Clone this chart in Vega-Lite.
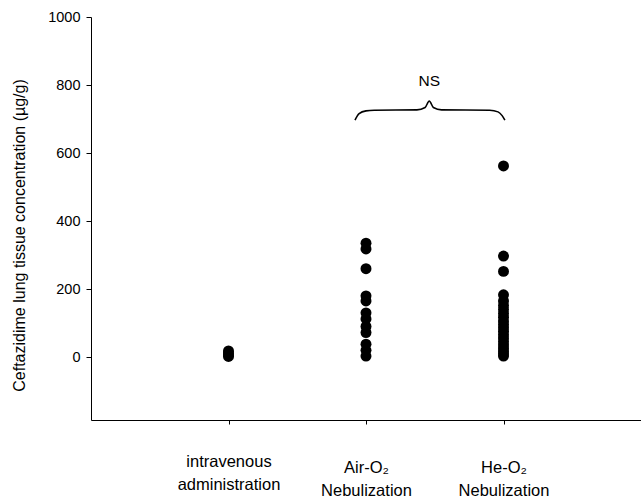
{
  "$schema": "https://vega.github.io/schema/vega-lite/v6.json",
  "width": 550,
  "height": 403,
  "autosize": {"type": "none"},
  "padding": {"left": 91, "top": 17, "right": 0, "bottom": 82},
  "background": "white",
  "config": {
    "view": {"stroke": null},
    "font": "Liberation Sans",
    "axis": {"domainColor": "black", "tickColor": "black", "labelColor": "black", "titleColor": "black", "grid": false, "labelFont": "Liberation Sans", "titleFont": "Liberation Sans", "titleFontWeight": "normal"}
  },
  "datasets": {
    "pts": [
      {"group": 1, "conc": 18}, {"group": 1, "conc": 12}, {"group": 1, "conc": 6}, {"group": 1, "conc": 2},
      {"group": 2, "conc": 335}, {"group": 2, "conc": 318}, {"group": 2, "conc": 260}, {"group": 2, "conc": 180},
      {"group": 2, "conc": 165}, {"group": 2, "conc": 130}, {"group": 2, "conc": 112}, {"group": 2, "conc": 90},
      {"group": 2, "conc": 72}, {"group": 2, "conc": 38}, {"group": 2, "conc": 20}, {"group": 2, "conc": 3},
      {"group": 3, "conc": 562}, {"group": 3, "conc": 297}, {"group": 3, "conc": 252}, {"group": 3, "conc": 183},
      {"group": 3, "conc": 165}, {"group": 3, "conc": 152}, {"group": 3, "conc": 140}, {"group": 3, "conc": 128},
      {"group": 3, "conc": 117}, {"group": 3, "conc": 106}, {"group": 3, "conc": 96}, {"group": 3, "conc": 86},
      {"group": 3, "conc": 76}, {"group": 3, "conc": 66}, {"group": 3, "conc": 56}, {"group": 3, "conc": 46},
      {"group": 3, "conc": 36}, {"group": 3, "conc": 27}, {"group": 3, "conc": 18}, {"group": 3, "conc": 10},
      {"group": 3, "conc": 3}
    ],
    "brace": [
      {"bx": 1.92, "by": 697}, {"bx": 1.95, "by": 716}, {"bx": 2.0, "by": 724}, {"bx": 2.06, "by": 726},
      {"bx": 2.37, "by": 727}, {"bx": 2.43, "by": 734}, {"bx": 2.46, "by": 753}, {"bx": 2.49, "by": 734},
      {"bx": 2.55, "by": 727}, {"bx": 2.9, "by": 726}, {"bx": 2.96, "by": 721}, {"bx": 2.99, "by": 710},
      {"bx": 3.01, "by": 697}
    ],
    "ns": [{"tx": 2.46, "ty": 812, "label": "NS"}]
  },
  "layer": [
    {
      "data": {"name": "pts"},
      "mark": {"type": "circle", "color": "black", "opacity": 1, "size": 120},
      "encoding": {
        "x": {
          "field": "group", "type": "quantitative",
          "scale": {"domain": [0, 4], "nice": false, "zero": false},
          "axis": {
            "title": null, "values": [1, 2, 3], "tickSize": 4,
            "labelFontSize": 16.5, "labelBaseline": "middle", "labelLineHeight": 23,
            "labelPadding": {"condition": {"test": "datum.value == 1", "value": 37}, "value": 43},
            "labelExpr": "datum.value == 1 ? ['intravenous', 'administration'] : datum.value == 2 ? ['Air-O₂', 'Nebulization'] : ['He-O₂', 'Nebulization']"
          }
        },
        "y": {
          "field": "conc", "type": "quantitative",
          "scale": {"domain": [-185, 1000], "nice": false, "zero": false},
          "axis": {
            "title": "Ceftazidime lung tissue concentration (µg/g)", "format": "d",
            "values": [0, 200, 400, 600, 800, 1000], "tickSize": 5,
            "labelFontSize": 14.5, "labelPadding": 6, "titleFontSize": 16, "titlePadding": 20,
            "titleY": 218
          }
        }
      }
    },
    {
      "data": {"name": "brace"},
      "mark": {"type": "line", "color": "black", "strokeWidth": 1.6, "interpolate": "monotone"},
      "encoding": {
        "x": {"field": "bx", "type": "quantitative"},
        "y": {"field": "by", "type": "quantitative"}
      }
    },
    {
      "data": {"name": "ns"},
      "mark": {"type": "text", "fontSize": 15.5, "color": "black", "baseline": "middle"},
      "encoding": {
        "x": {"field": "tx", "type": "quantitative"},
        "y": {"field": "ty", "type": "quantitative"},
        "text": {"field": "label"}
      }
    }
  ]
}
